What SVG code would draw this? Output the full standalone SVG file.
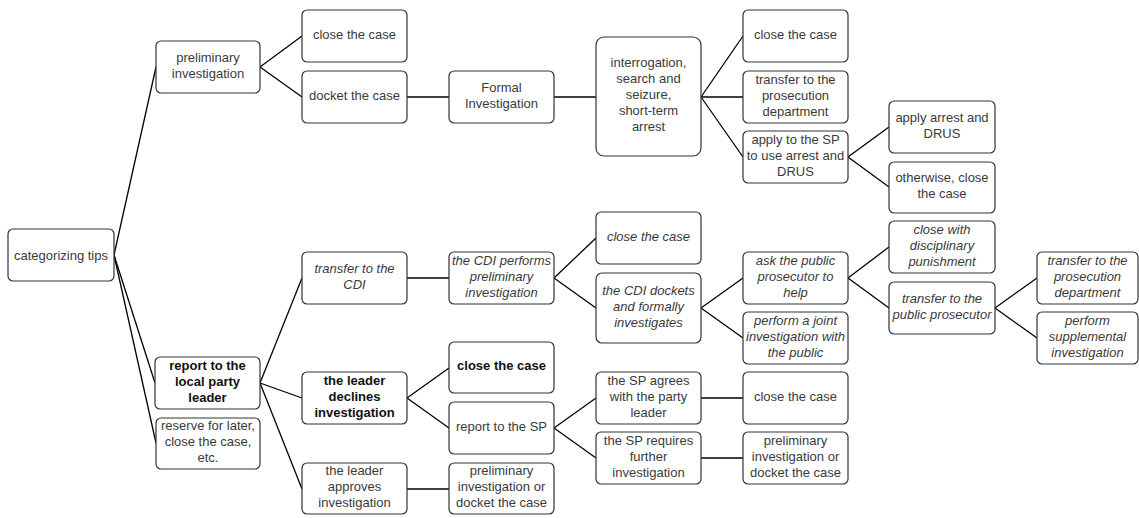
<svg xmlns="http://www.w3.org/2000/svg" width="1139" height="518" viewBox="0 0 1139 518">
<style>
.b{fill:#fff;stroke:#333;stroke-width:1.2}
text{font-family:"Liberation Sans",Arial,sans-serif;font-size:13px;fill:#3a3a3a;text-anchor:middle}
.i{font-style:italic}
.bd{font-weight:bold;fill:#111}
#connectors line{stroke:#000;stroke-width:1.3}
</style>
<rect width="1139" height="518" fill="#fff"/>
<g id="connectors">
<line x1="114" y1="255" x2="156" y2="67"/>
<line x1="114" y1="255" x2="155" y2="383"/>
<line x1="114" y1="255" x2="156" y2="443"/>
<line x1="260" y1="67" x2="302" y2="36"/>
<line x1="260" y1="67" x2="302" y2="97"/>
<line x1="407" y1="97" x2="449" y2="97"/>
<line x1="554" y1="97" x2="596" y2="97"/>
<line x1="701" y1="97" x2="743" y2="36"/>
<line x1="701" y1="97" x2="743" y2="97"/>
<line x1="701" y1="97" x2="743" y2="157"/>
<line x1="848" y1="157" x2="889" y2="127"/>
<line x1="848" y1="157" x2="889" y2="187"/>
<line x1="260" y1="383" x2="302" y2="278"/>
<line x1="260" y1="383" x2="302" y2="398"/>
<line x1="260" y1="383" x2="302" y2="489"/>
<line x1="407" y1="278" x2="449" y2="278"/>
<line x1="554" y1="278" x2="596" y2="238"/>
<line x1="554" y1="278" x2="596" y2="308"/>
<line x1="701" y1="308" x2="743" y2="278"/>
<line x1="701" y1="308" x2="743" y2="338"/>
<line x1="848" y1="278" x2="889" y2="247"/>
<line x1="848" y1="278" x2="889" y2="308"/>
<line x1="995" y1="308" x2="1037" y2="278"/>
<line x1="995" y1="308" x2="1037" y2="338"/>
<line x1="407" y1="398" x2="449" y2="368"/>
<line x1="407" y1="398" x2="449" y2="428"/>
<line x1="554" y1="428" x2="596" y2="398"/>
<line x1="554" y1="428" x2="596" y2="458"/>
<line x1="701" y1="398" x2="743" y2="398"/>
<line x1="701" y1="458" x2="743" y2="458"/>
<line x1="407" y1="489" x2="449" y2="489"/>
</g>
<g id="n1"><rect class="b" x="8" y="229" width="106" height="52" rx="5"/><text x="61" y="259.5">categorizing tips</text></g>
<g id="n2"><rect class="b" x="156" y="41" width="104" height="52" rx="5"/><text x="208" y="61.5">preliminary<tspan x="208" dy="16">investigation</tspan></text></g>
<g id="n3"><rect class="b" x="302" y="10" width="105" height="52" rx="5"/><text x="354.5" y="38.5">close the case</text></g>
<g id="n4"><rect class="b" x="302" y="71" width="105" height="52" rx="5"/><text x="354.5" y="99.5">docket the case</text></g>
<g id="n5"><rect class="b" x="449" y="71" width="105" height="52" rx="5"/><text x="501.5" y="91.5">Formal<tspan x="501.5" dy="16">Investigation</tspan></text></g>
<g id="n6"><rect class="b" x="596" y="37" width="105" height="119" rx="8"/><text x="648.5" y="67">interrogation,<tspan x="648.5" dy="16">search and</tspan><tspan x="648.5" dy="16">seizure,</tspan><tspan x="648.5" dy="16">short-term</tspan><tspan x="648.5" dy="16">arrest</tspan></text></g>
<g id="n7"><rect class="b" x="743" y="10" width="105" height="52" rx="5"/><text x="795.5" y="38.5">close the case</text></g>
<g id="n8"><rect class="b" x="743" y="71" width="105" height="52" rx="5"/><text x="795.5" y="83.5">transfer to the<tspan x="795.5" dy="16">prosecution</tspan><tspan x="795.5" dy="16">department</tspan></text></g>
<g id="n9"><rect class="b" x="743" y="131" width="105" height="52" rx="5"/><text x="795.5" y="143.5">apply to the SP<tspan x="795.5" dy="16">to use arrest and</tspan><tspan x="795.5" dy="16">DRUS</tspan></text></g>
<g id="n10"><rect class="b" x="889" y="101" width="106" height="52" rx="5"/><text x="942" y="121.5">apply arrest and<tspan x="942" dy="16">DRUS</tspan></text></g>
<g id="n11"><rect class="b" x="889" y="162" width="106" height="51" rx="5"/><text x="942" y="182">otherwise, close<tspan x="942" dy="16">the case</tspan></text></g>
<g id="n12"><rect class="b" x="302" y="252" width="105" height="52" rx="5"/><text class="i" x="354.5" y="272.5">transfer to the<tspan x="354.5" dy="16">CDI</tspan></text></g>
<g id="n13"><rect class="b" x="449" y="252" width="105" height="52" rx="5"/><text class="i" x="501.5" y="264.5">the CDI performs<tspan x="501.5" dy="16">preliminary</tspan><tspan x="501.5" dy="16">investigation</tspan></text></g>
<g id="n14"><rect class="b" x="596" y="212" width="105" height="52" rx="5"/><text class="i" x="648.5" y="240.5">close the case</text></g>
<g id="n15"><rect class="b" x="596" y="273" width="105" height="70" rx="6"/><text class="i" x="648.5" y="294.5">the CDI dockets<tspan x="648.5" dy="16">and formally</tspan><tspan x="648.5" dy="16">investigates</tspan></text></g>
<g id="n16"><rect class="b" x="743" y="252" width="105" height="52" rx="5"/><text class="i" x="795.5" y="264.5">ask the public<tspan x="795.5" dy="16">prosecutor to</tspan><tspan x="795.5" dy="16">help</tspan></text></g>
<g id="n17"><rect class="b" x="743" y="312" width="105" height="52" rx="5"/><text class="i" x="795.5" y="324.5">perform a joint<tspan x="795.5" dy="16">investigation with</tspan><tspan x="795.5" dy="16">the public</tspan></text></g>
<g id="n18"><rect class="b" x="889" y="221" width="106" height="52" rx="5"/><text class="i" x="942" y="233.5">close with<tspan x="942" dy="16">disciplinary</tspan><tspan x="942" dy="16">punishment</tspan></text></g>
<g id="n19"><rect class="b" x="889" y="282" width="106" height="52" rx="5"/><text class="i" x="942" y="302.5">transfer to the<tspan x="942" dy="16">public prosecutor</tspan></text></g>
<g id="n20"><rect class="b" x="1037" y="252" width="101" height="52" rx="5"/><text class="i" x="1087.5" y="264.5">transfer to the<tspan x="1087.5" dy="16">prosecution</tspan><tspan x="1087.5" dy="16">department</tspan></text></g>
<g id="n21"><rect class="b" x="1037" y="312" width="101" height="52" rx="5"/><text class="i" x="1087.5" y="324.5">perform<tspan x="1087.5" dy="16">supplemental</tspan><tspan x="1087.5" dy="16">investigation</tspan></text></g>
<g id="n22"><rect class="b" x="155" y="357" width="105" height="52" rx="5"/><text class="bd" x="207.5" y="369.5">report to the<tspan x="207.5" dy="16">local party</tspan><tspan x="207.5" dy="16">leader</tspan></text></g>
<g id="n23"><rect class="b" x="156" y="418" width="104" height="51" rx="5"/><text x="208" y="430">reserve for later,<tspan x="208" dy="16">close the case,</tspan><tspan x="208" dy="16">etc.</tspan></text></g>
<g id="n24"><rect class="b" x="302" y="372" width="105" height="52" rx="5"/><text class="bd" x="354.5" y="384.5">the leader<tspan x="354.5" dy="16">declines</tspan><tspan x="354.5" dy="16">investigation</tspan></text></g>
<g id="n25"><rect class="b" x="302" y="463" width="105" height="51" rx="5"/><text x="354.5" y="475">the leader<tspan x="354.5" dy="16">approves</tspan><tspan x="354.5" dy="16">investigation</tspan></text></g>
<g id="n26"><rect class="b" x="449" y="342" width="105" height="51" rx="5"/><text class="bd" x="501.5" y="370">close the case</text></g>
<g id="n27"><rect class="b" x="449" y="402" width="105" height="52" rx="5"/><text x="501.5" y="430.5">report to the SP</text></g>
<g id="n28"><rect class="b" x="449" y="463" width="105" height="51" rx="5"/><text x="501.5" y="475">preliminary<tspan x="501.5" dy="16">investigation or</tspan><tspan x="501.5" dy="16">docket the case</tspan></text></g>
<g id="n29"><rect class="b" x="596" y="372" width="105" height="52" rx="5"/><text x="648.5" y="384.5">the SP agrees<tspan x="648.5" dy="16">with the party</tspan><tspan x="648.5" dy="16">leader</tspan></text></g>
<g id="n30"><rect class="b" x="596" y="432" width="105" height="52" rx="5"/><text x="648.5" y="444.5">the SP requires<tspan x="648.5" dy="16">further</tspan><tspan x="648.5" dy="16">investigation</tspan></text></g>
<g id="n31"><rect class="b" x="743" y="372" width="105" height="52" rx="5"/><text x="795.5" y="400.5">close the case</text></g>
<g id="n32"><rect class="b" x="743" y="432" width="105" height="52" rx="5"/><text x="795.5" y="444.5">preliminary<tspan x="795.5" dy="16">investigation or</tspan><tspan x="795.5" dy="16">docket the case</tspan></text></g>
</svg>
